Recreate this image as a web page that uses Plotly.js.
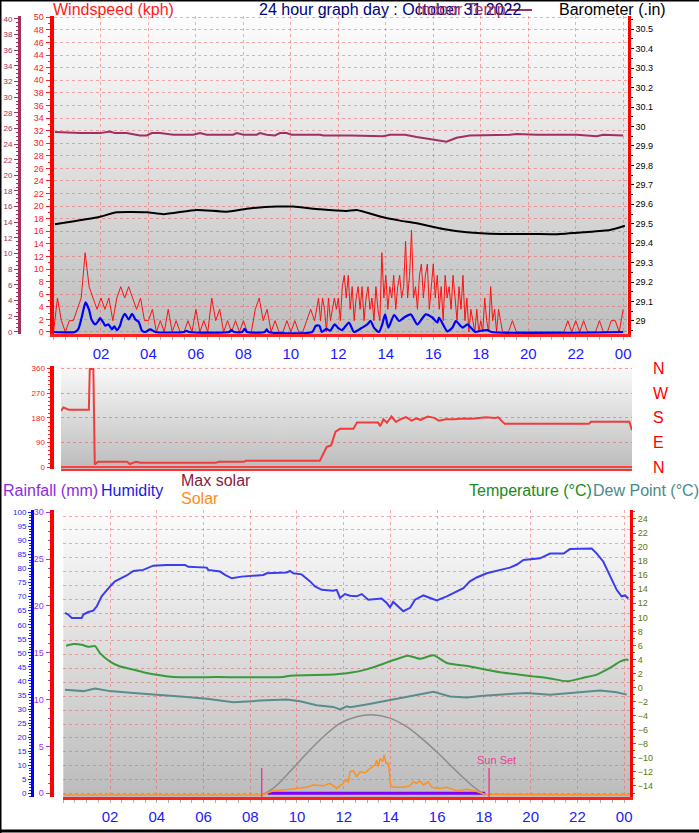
<!DOCTYPE html>
<html>
<head>
<meta charset="utf-8">
<script src="https://cdn.plot.ly/plotly-3.0.1.min.js"></script>
<style>
  html, body { margin: 0; padding: 0; background: #ffffff; }
  #graficoClima { width: 699px; height: 833px; }
</style>
</head>
<body>
<div id="graficoClima"></div>
<script>
// eje de horas
var tickHours = [2, 4, 6, 8, 10, 12, 14, 16, 18, 20, 22, 24];
var tickLabels = ["02", "04", "06", "08", "10", "12", "14", "16", "18", "20", "22", "00"];

// rafagas (kph): cada 10 min de 00 a 11, cada 5 min de 11 a 19, cada 10 min de 19 a 24
var gustQuiet1 = [0, 5.4, 1.8, 0, 1.8, 1.8,
  3.6, 5.4, 12.6, 7.2, 5.4, 3.6,
  5.4, 3.6, 5.4, 1.8, 5.4, 7.2,
  5.4, 7.2, 5.4, 3.6, 5.4, 1.8,
  1.8, 3.6, 0, 1.8, 0, 3.6,
  0, 1.8, 0, 0, 1.8, 0,
  3.6, 0, 1.8, 0, 5.4, 1.8,
  3.6, 0, 1.8, 0, 1.8, 0,
  1.8, 0, 0, 3.6, 5.4, 1.8,
  3.6, 0, 1.8, 0, 0, 1.8,
  0, 1.8, 0, 0, 1.8, 3.6];
var gustBusy = [1.8, 3.6, 5.4, 1.8, 5.4, 3.6, 0, 5.4, 1.8, 3.6, 5.4, 3.6,
  5.4, 1.8, 7.2, 9, 5.4, 9, 3.6, 7.2, 1.8, 5.4, 7.2, 3.6,
  7.2, 1.8, 5.4, 7.2, 3.6, 5.4, 1.8, 7.2, 3.6, 1.8, 12.6, 5.4,
  9, 3.6, 7.2, 5.4, 9, 3.6, 7.2, 9, 5.4, 7.2, 14.4, 5.4,
  9, 16.2, 5.4, 7.2, 3.6, 9, 10.8, 5.4, 9, 10.8, 3.6, 7.2,
  10.8, 5.4, 9, 3.6, 7.2, 1.8, 9, 5.4, 7.2, 3.6, 9, 5.4,
  1.8, 7.2, 3.6, 9, 1.8, 5.4, 0, 3.6, 1.8, 0, 3.6, 0,
  1.8, 0, 5.4, 1.8, 0, 7.2, 1.8, 3.6, 0, 3.6, 1.8, 0];
var gustQuiet2 = [0, 0, 1.8, 0, 0, 0,
  0, 0, 0, 0, 0, 0,
  0, 0, 0, 0, 1.8, 0,
  1.8, 0, 1.8, 0, 0, 0,
  1.8, 0, 0, 1.8, 1.8, 0,
  3.6];

// viento medio (kph)
var avgHours = [0, 0.9, 1.05, 1.2, 1.35, 1.5, 1.6, 1.75, 1.9, 1.96,
  2.1, 2.18, 2.32, 2.46, 2.56, 2.67, 2.8, 2.88, 3.0, 3.17,
  3.31, 3.45, 3.59, 3.73, 3.87, 4.08, 4.29, 5.5, 5.6, 5.7,
  7.4, 7.5, 7.6, 7.95, 8.05, 8.15, 8.9, 8.98, 9.06, 10.9,
  11.05, 11.2, 11.3, 11.5, 11.65, 11.85, 12.0, 12.15, 12.45, 12.66,
  13.01, 13.22, 13.36, 13.5, 13.71, 13.85, 13.97, 14.11, 14.35, 14.56,
  14.77, 15.05, 15.33, 15.68, 15.96, 16.17, 16.24, 16.59, 16.81, 16.95,
  17.23, 17.44, 17.58, 17.77, 18.0, 18.29, 18.45, 24.0];
var avgKph = [0, 0, 0.5, 2.5, 4.7, 3.5, 2.0, 1.2, 1.8, 2.2,
  1.5, 1.0, 1.2, 0.4, 0.9, 0.3, 1.0, 2.0, 2.9, 2.0,
  2.9, 2.0, 1.6, 0.2, 0, 0.4, 0, 0, 0.2, 0,
  0, 0.3, 0, 0, 0.5, 0, 0, 0.4, 0, 0,
  1.0, 1.0, 0, 0.5, 0.2, 1.2, 0.6, 0.3, 1.5, 0,
  0.7, 1.2, 1.75, 0.7, 0, 1.2, 2.8, 0.7, 2.7, 1.75,
  2.3, 2.8, 1.2, 2.8, 2.3, 1.5, 2.3, 0.1, 0.7, 1.75,
  0.7, 1.2, 0.7, 0, 0.2, 0.3, 0, 0];

// temperatura interior (eje 0-40)
var inHours = [0.06, 1.12, 1.96, 2.38, 2.59, 3.08, 3.64, 3.93, 4.14, 4.49,
  5.05, 5.89, 6.17, 6.45, 7.57, 7.72, 8.0, 8.56, 8.7, 8.98,
  9.33, 9.54, 9.82, 10.03, 11.23, 11.37, 12.49, 13.89, 14.17, 14.81,
  15.3, 15.72, 16.56, 16.98, 17.54, 19.23, 19.51, 20.35, 21.2, 22.04,
  22.88, 23.16, 24.0];
var inTemp = [25.55, 25.4, 25.4, 25.6, 25.4, 25.4, 25.1, 25.1, 25.4, 25.4,
  25.2, 25.2, 25.4, 25.2, 25.2, 25.4, 25.2, 25.2, 25.4, 25.2,
  25.1, 25.4, 25.4, 25.2, 25.2, 25.1, 25.1, 25.0, 25.2, 25.2,
  24.9, 24.7, 24.3, 24.8, 25.1, 25.2, 25.3, 25.2, 25.2, 25.2,
  25.0, 25.2, 25.1];

// barometro (in)
var baroHours = [0.06, 1.96, 2.66, 3.93, 4.63, 6.03, 7.3, 8.14, 9.4, 10.1,
  11.23, 12.35, 12.77, 13.89, 14.6, 15.3, 16.42, 17.41, 18.81, 20.21,
  21.19, 22.32, 23.44, 24.07];
var baroIn = [29.497, 29.536, 29.559, 29.559, 29.549, 29.571, 29.562, 29.577, 29.588, 29.588,
  29.574, 29.566, 29.571, 29.533, 29.516, 29.502, 29.473, 29.456, 29.447, 29.447,
  29.446, 29.456, 29.468, 29.49];

// direccion del viento (grados)
var dirHours = [0, 0.1, 0.33, 1.17, 1.21, 1.36, 1.42, 1.55, 2.78, 2.89,
  3.15, 3.34, 6.5, 6.64, 7.7, 7.77, 10.88, 10.98, 11.17, 11.35,
  11.54, 11.73, 12.29, 12.44, 13.33, 13.42, 13.55, 13.70, 13.89, 14.08,
  14.27, 14.5, 14.74, 14.93, 15.12, 15.41, 15.69, 15.88, 16.16, 16.53,
  16.91, 17.29, 17.86, 18.24, 18.38, 18.51, 18.65, 22.19, 22.28, 23.89,
  24.0];
var dirDeg = [205, 218, 210, 210, 358, 358, 10, 20, 20, 12,
  20, 17, 17, 20, 20, 24, 24, 40, 75, 80,
  130, 140, 140, 163, 163, 150, 175, 162, 185, 165,
  175, 183, 170, 178, 173, 185, 180, 170, 175, 175,
  178, 177, 182, 180, 182, 170, 159, 159, 166, 166,
  135];
var dirTicks = [0, 90, 180, 270, 360];
var dirLetters = ["N", "E", "S", "W", "N"];

// humedad (%)
var humHours = [0.07, 0.21, 0.36, 0.79, 0.86, 1.07, 1.28, 1.43, 1.64, 1.86,
  2.0, 2.21, 2.43, 2.71, 3.0, 3.42, 3.85, 4.42, 5.21, 5.35,
  6.14, 6.2, 6.71, 6.92, 7.21, 7.63, 8.56, 8.7, 9.56, 9.7,
  9.84, 10.2, 10.56, 10.77, 11.06, 11.55, 11.7, 11.84, 12.05, 12.27,
  12.55, 12.77, 13.05, 13.62, 13.84, 13.98, 14.12, 14.41, 14.55, 14.84,
  15.05, 15.41, 15.69, 15.98, 16.41, 16.84, 17.12, 17.4, 17.69, 18.12,
  18.55, 19.11, 19.41, 19.69, 20.4, 20.83, 21.41, 21.68, 22.61, 22.83,
  23.11, 23.39, 23.68, 23.89, 24.04, 24.18];
var humPct = [64.2, 63.6, 62.4, 62.4, 63.6, 64.5, 65.0, 66.5, 70.1, 72.4,
  73.6, 75.4, 76.2, 77.5, 79.1, 79.5, 81.0, 81.2, 81.2, 80.6,
  80.3, 79.5, 78.9, 77.7, 76.5, 77.1, 77.7, 78.3, 78.6, 79.1,
  78.3, 77.9, 75.4, 73.6, 72.4, 72.1, 72.4, 69.5, 70.9, 70.3,
  70.1, 70.9, 68.9, 69.3, 67.7, 66.2, 68.1, 65.7, 64.8, 66.0,
  68.9, 70.4, 69.5, 68.6, 70.1, 71.8, 73.0, 75.4, 76.8, 78.3,
  79.2, 80.3, 81.4, 83.0, 83.6, 85.3, 85.3, 86.9, 87.1, 85.3,
  82.4, 77.7, 72.4, 70.1, 70.4, 69.3];

// temperatura y punto de rocio (°C)
var tempHours = [0.12, 0.43, 0.79, 1.07, 1.36, 1.57, 2.0, 2.43, 2.71, 3.42,
  4.14, 4.71, 6.56, 9.41, 9.7, 11.55, 11.98, 12.27, 12.98, 13.7,
  13.98, 14.76, 15.26, 15.84, 16.41, 17.4, 18.69, 20.11, 20.83, 21.55,
  22.26, 22.83, 23.39, 23.82, 24.11, 24.18];
var tempC = [5.97, 6.2, 6.1, 5.8, 5.9, 4.9, 3.7, 3.0, 2.8, 2.2,
  1.75, 1.5, 1.5, 1.5, 1.7, 1.85, 2.0, 2.1, 2.6, 3.4,
  3.75, 4.55, 4.1, 4.6, 3.5, 3.0, 2.2, 1.6, 1.3, 0.9,
  1.4, 1.85, 2.8, 3.7, 4.0, 3.85];
var dewHours = [0.07, 0.86, 1.36, 2.0, 3.0, 4.14, 5.14, 6.14, 7.28, 8.42,
  9.56, 10.13, 10.84, 11.55, 11.84, 12.13, 12.27, 12.98, 13.7, 14.41,
  15.12, 15.84, 16.55, 17.27, 17.97, 18.69, 19.83, 20.83, 21.97, 22.97,
  23.68, 24.11];
var dewC = [-0.3, -0.5, -0.14, -0.5, -0.75, -1.0, -1.3, -1.6, -2.1, -1.85,
  -1.7, -1.95, -2.5, -2.75, -3.1, -2.65, -2.8, -2.4, -1.95, -1.5,
  -1.15, -0.6, -1.25, -1.4, -1.15, -1.0, -0.75, -1.0, -0.65, -0.4,
  -0.65, -1.0];

// radiacion solar (W/m2)
var maxSolarHours = [8.5, 8.99, 9.7, 10.42, 11.13, 11.84, 12.55, 13.2, 13.98, 14.69,
  15.41, 16.12, 16.84, 17.55, 18.05];
var maxSolarW = [0, 24, 82, 146, 204, 251, 274, 281, 269, 239,
  193, 140, 82, 29, 0];
var solarHours = [0, 8.5, 8.7, 8.99, 9.7, 10.42, 10.7, 11.13, 11.41, 11.7,
  11.98, 12.05, 12.2, 12.27, 12.41, 12.55, 12.7, 12.91, 13.13, 13.34,
  13.41, 13.48, 13.56, 13.67, 13.73, 13.81, 13.91, 14.01, 14.12, 14.55,
  14.83, 14.98, 15.12, 15.26, 15.41, 15.62, 15.77, 16.12, 16.41, 16.84,
  17.27, 17.7, 18.05, 24.25];
var solarW = [0, 0, 6, 15, 20, 27, 35, 32, 41, 23,
  41, 52, 46, 81, 85, 64, 81, 78, 93, 105,
  122, 99, 128, 117, 140, 111, 111, 35, 27, 27,
  32, 46, 41, 50, 35, 46, 27, 23, 27, 15,
  20, 12, 2, 0];

// lluvia (mm) y sol
var rainHours = [8.75, 18.05];
var rainMm = [0, 0];
var sunTimes = [8.49, 18.22];

// tiempos de las rafagas
var gustHours = [];
var i;
for (i = 0; i < gustQuiet1.length; i++) gustHours.push(i / 6);
for (i = 0; i < gustBusy.length; i++) gustHours.push(11 + i / 12);
for (i = 0; i < gustQuiet2.length; i++) gustHours.push(19 + i / 6);
var gustKph = gustQuiet1.concat(gustBusy, gustQuiet2);

// pixel -> papel
function px(x) { return x / 699; }
function py(y) { return 1 - y / 833; }

function degradado(arriba, abajo) {
  var c = document.createElement("canvas");
  c.width = 4; c.height = 256;
  var g = c.getContext("2d");
  var gr = g.createLinearGradient(0, 0, 0, 256);
  gr.addColorStop(0, arriba);
  gr.addColorStop(1, abajo);
  g.fillStyle = gr;
  g.fillRect(0, 0, 4, 256);
  return c.toDataURL();
}

var rojoGrid = "rgba(238,90,90,0.5)";
var fuente = "Liberation Sans, Arial, sans-serif";
var fuenteChica = "Liberation Sans Narrow, Liberation Sans, Arial, sans-serif";

var topX = [px(53.5), px(627.7)], topY = [py(334), py(16)];
var midX = [px(61), px(632)], midY = [py(469), py(366)];
var botX = [px(63.3), px(630)], botY = [py(797), py(510)];

var data = [
  {x: gustHours, y: gustKph, xaxis: "x", yaxis: "y", mode: "lines",
    line: {color: "#ff1010", width: 1}, hoverinfo: "skip"},
  {x: avgHours, y: avgKph, xaxis: "x", yaxis: "y", mode: "lines",
    line: {color: "#0000ff", width: 2.2, shape: "spline", smoothing: 0.6}, hoverinfo: "skip"},
  {x: inHours, y: inTemp, xaxis: "x", yaxis: "y2", mode: "lines",
    line: {color: "#a03060", width: 2}, hoverinfo: "skip"},
  {x: baroHours, y: baroIn, xaxis: "x", yaxis: "y3", mode: "lines",
    line: {color: "#000000", width: 2, shape: "spline", smoothing: 0.5}, hoverinfo: "skip"},
  {x: dirHours, y: dirDeg, xaxis: "x2", yaxis: "y4", mode: "lines",
    line: {color: "#f03c3c", width: 2}, hoverinfo: "skip"},
  {x: dirHours, y: dirDeg, xaxis: "x2", yaxis: "y5", mode: "lines",
    line: {color: "rgba(0,0,0,0)", width: 0}, hoverinfo: "skip"},
  {x: maxSolarHours, y: maxSolarW, xaxis: "x3", yaxis: "y10", mode: "lines",
    line: {color: "#8c8c8c", width: 1.5, shape: "spline"}, hoverinfo: "skip"},
  {x: solarHours, y: solarW, xaxis: "x3", yaxis: "y10", mode: "lines",
    line: {color: "#ff9020", width: 1.5}, hoverinfo: "skip"},
  {x: rainHours, y: rainMm, xaxis: "x3", yaxis: "y6", mode: "lines",
    line: {color: "#8000ff", width: 3}, hoverinfo: "skip"},
  {x: dewHours, y: dewC, xaxis: "x3", yaxis: "y8", mode: "lines",
    line: {color: "#5a8c8c", width: 2}, hoverinfo: "skip"},
  {x: tempHours, y: tempC, xaxis: "x3", yaxis: "y8", mode: "lines",
    line: {color: "#3a9a3a", width: 2, shape: "spline", smoothing: 0.5}, hoverinfo: "skip"},
  {x: humHours, y: humPct, xaxis: "x3", yaxis: "y7", mode: "lines",
    line: {color: "#3c3cf0", width: 2}, hoverinfo: "skip"},
  {x: humHours, y: humPct, xaxis: "x3", yaxis: "y9", mode: "lines",
    line: {color: "rgba(0,0,0,0)", width: 0}, hoverinfo: "skip"}
];

function ejeHoras(dom, rango, ancla) {
  return {
    domain: dom, range: rango, anchor: ancla,
    tickmode: "array", tickvals: tickHours, ticktext: tickLabels,
    tickfont: {family: fuente, size: 15, color: "#1a1aff"},
    ticks: "", ticklabelstandoff: 4,
    showgrid: true, gridcolor: rojoGrid, griddash: "dot", gridwidth: 1,
    showline: true, linecolor: "#ff2020", linewidth: 3, zeroline: false,
    minor: {ticks: "outside", dtick: 0.5, tick0: 0, ticklen: 3, tickcolor: "#b0b0b0", showgrid: false}
  };
}

var layout = {
  width: 699, height: 833,
  margin: {l: 0, r: 0, t: 0, b: 0},
  paper_bgcolor: "#ffffff",
  plot_bgcolor: "rgba(0,0,0,0)",
  showlegend: false,
  font: {family: fuente},
  xaxis: ejeHoras(topX, [0, 24.19], "y"),
  yaxis: {
    domain: topY, range: [-0.32, 50.21], tick0: 0, dtick: 2,
    tickfont: {family: fuenteChica, size: 9, color: "#ff2020"},
    ticks: "outside", ticklen: 4, tickcolor: "#ff2020",
    showgrid: true, gridcolor: rojoGrid, griddash: "dot",
    showline: true, linecolor: "#ff0000", linewidth: 4, zeroline: false,
    minor: {ticks: "outside", dtick: 1, ticklen: 2, tickcolor: "#ff2020", showgrid: false}
  },
  yaxis2: {
    overlaying: "y", anchor: "free", position: px(19), side: "left",
    range: [-0.294, 40.38], tick0: 0, dtick: 2,
    tickfont: {family: fuenteChica, size: 8, color: "#a03060"},
    ticks: "outside", ticklen: 4, tickcolor: "#a03060",
    showgrid: false, showline: true, linecolor: "#a03060", linewidth: 3, zeroline: false,
    minor: {ticks: "outside", dtick: 0.5, ticklen: 2, tickcolor: "#a03060"}
  },
  yaxis3: {
    overlaying: "y", anchor: "x", side: "right",
    range: [28.933, 30.568], tick0: 29, dtick: 0.1,
    tickfont: {family: fuenteChica, size: 9, color: "#000000"},
    ticks: "outside", ticklen: 3, tickcolor: "#000000",
    showgrid: false, showline: true, linecolor: "#ff0000", linewidth: 3, zeroline: false,
    minor: {ticks: "outside", dtick: 0.05, ticklen: 2, tickcolor: "#000000"}
  },
  xaxis2: {
    domain: midX, range: [0, 24], anchor: "y4",
    showticklabels: false, ticks: "", showgrid: false,
    showline: true, linecolor: "#ff3030", linewidth: 2, zeroline: false
  },
  yaxis4: {
    domain: midY, range: [-6.2, 369], tickmode: "array", tickvals: dirTicks,
    tickfont: {family: fuenteChica, size: 8, color: "#ff2020"},
    ticks: "outside", ticklen: 3, tickcolor: "#ff2020",
    showgrid: true, gridcolor: "rgba(238,90,90,0.6)", griddash: "dot",
    showline: true, linecolor: "#ff0000", linewidth: 4,
    zeroline: true, zerolinecolor: "#ff4040", zerolinewidth: 2,
    minor: {ticks: "outside", dtick: 15, ticklen: 2, tickcolor: "#ff2020", showgrid: false}
  },
  yaxis5: {
    overlaying: "y4", anchor: "x2", side: "right",
    range: [-6.2, 369], tickmode: "array", tickvals: dirTicks, ticktext: dirLetters,
    tickfont: {family: fuente, size: 16, color: "#ff0000"},
    ticks: "", ticklabelstandoff: 20, showgrid: false, showline: false, zeroline: false
  },
  xaxis3: ejeHoras(botX, [0, 24.25], "y6"),
  yaxis6: {
    domain: botY, range: [-0.4, 30.25], tick0: 0, dtick: 5,
    tickfont: {family: fuenteChica, size: 9, color: "#9a30ff"},
    ticks: "outside", ticklen: 4, tickcolor: "#9a30ff",
    showgrid: false, showline: true, linecolor: "#ff0000", linewidth: 4, zeroline: false,
    minor: {ticks: "outside", dtick: 1, ticklen: 2, tickcolor: "#9a30ff"}
  },
  yaxis7: {
    overlaying: "y6", anchor: "free", position: px(32), side: "left",
    range: [-1.3, 100.8], tick0: 0, dtick: 5,
    tickfont: {family: fuenteChica, size: 8, color: "#1a1aff"},
    ticks: "outside", ticklen: 3, tickcolor: "#1a1aff",
    showgrid: false, showline: true, linecolor: "#0000ff", linewidth: 3, zeroline: false,
    minor: {ticks: "outside", dtick: 1, ticklen: 2, tickcolor: "#1a1aff"}
  },
  yaxis8: {
    overlaying: "y6", anchor: "x3", side: "right",
    range: [-15.57, 25.28], tick0: 0, dtick: 2,
    tickfont: {family: fuenteChica, size: 9, color: "#5a7a00"},
    ticks: "outside", ticklen: 3, tickcolor: "#5a7a00",
    showgrid: false, showline: true, linecolor: "#ff0000", linewidth: 3, zeroline: false,
    minor: {ticks: "outside", dtick: 1, ticklen: 2, tickcolor: "#5a7a00"}
  },
  yaxis9: {
    overlaying: "y6", anchor: "x3", side: "left",
    range: [-0.267, 20.44], tick0: 0, dtick: 1,
    showticklabels: false, ticks: "",
    showgrid: true, gridcolor: rojoGrid, griddash: "dot",
    showline: false, zeroline: false
  },
  yaxis10: {
    overlaying: "y6", anchor: "x3", range: [-7, 997.5], visible: false
  },
  images: [
    {source: degradado("#fdfdfd", "#bebebe"), xref: "paper", yref: "paper",
      x: topX[0], y: topY[1], sizex: topX[1] - topX[0], sizey: topY[1] - topY[0],
      sizing: "stretch", xanchor: "left", yanchor: "top", layer: "below"},
    {source: degradado("#fafafa", "#bcbcbc"), xref: "paper", yref: "paper",
      x: midX[0], y: midY[1], sizex: midX[1] - midX[0], sizey: midY[1] - midY[0],
      sizing: "stretch", xanchor: "left", yanchor: "top", layer: "below"},
    {source: degradado("#fdfdfd", "#bcbcbc"), xref: "paper", yref: "paper",
      x: botX[0], y: botY[1], sizex: botX[1] - botX[0], sizey: botY[1] - botY[0],
      sizing: "stretch", xanchor: "left", yanchor: "top", layer: "below"}
  ],
  shapes: [
    {type: "line", xref: "paper", yref: "paper", x0: 0, x1: 0, y0: 0, y1: 1,
      line: {color: "#000000", width: 3}},
    {type: "line", xref: "paper", yref: "paper", x0: 0, x1: 1, y0: 1, y1: 1,
      line: {color: "#000000", width: 3}},
    {type: "line", xref: "paper", yref: "paper", x0: 0, x1: 1, y0: py(831), y1: py(831),
      line: {color: "#000000", width: 3}},
    {type: "line", xref: "paper", yref: "paper", x0: px(507), x1: px(532), y0: py(10), y1: py(10),
      line: {color: "#a03060", width: 2}},
    {type: "line", xref: "x3", yref: "y6", x0: sunTimes[0], x1: sunTimes[0], y0: -0.4, y1: 2.7,
      line: {color: "#e8409a", width: 1.5}},
    {type: "line", xref: "x3", yref: "y6", x0: sunTimes[1], x1: sunTimes[1], y0: -0.4, y1: 2.7,
      line: {color: "#e8409a", width: 1.5}}
  ],
  annotations: [
    {text: "Windspeed (kph)", xref: "paper", yref: "paper", x: px(51), y: py(9),
      xanchor: "left", yanchor: "middle", showarrow: false, font: {size: 16, color: "#ff1a1a"}},
    {text: "24 hour graph day : October 31 2022", xref: "paper", yref: "paper", x: px(257), y: py(9),
      xanchor: "left", yanchor: "middle", showarrow: false, font: {size: 16, color: "#000080"}},
    {text: "Indoor Temp", xref: "paper", yref: "paper", x: px(415), y: py(9),
      xanchor: "left", yanchor: "middle", showarrow: false, font: {size: 16, color: "#a03060"}},
    {text: "Barometer (.in)", xref: "paper", yref: "paper", x: px(557), y: py(9),
      xanchor: "left", yanchor: "middle", showarrow: false, font: {size: 16, color: "#000000"}},
    {text: "Rainfall (mm)", xref: "paper", yref: "paper", x: px(1), y: py(490),
      xanchor: "left", yanchor: "middle", showarrow: false, font: {size: 16, color: "#8a2be2"}},
    {text: "Humidity", xref: "paper", yref: "paper", x: px(99), y: py(490),
      xanchor: "left", yanchor: "middle", showarrow: false, font: {size: 16, color: "#1a1ae6"}},
    {text: "Max solar", xref: "paper", yref: "paper", x: px(179), y: py(480),
      xanchor: "left", yanchor: "middle", showarrow: false, font: {size: 16, color: "#8b1a3a"}},
    {text: "Solar", xref: "paper", yref: "paper", x: px(179), y: py(498),
      xanchor: "left", yanchor: "middle", showarrow: false, font: {size: 16, color: "#ff8c1a"}},
    {text: "Temperature (°C)", xref: "paper", yref: "paper", x: px(467), y: py(490),
      xanchor: "left", yanchor: "middle", showarrow: false, font: {size: 16, color: "#1a8a1a"}},
    {text: "Dew Point (°C)", xref: "paper", yref: "paper", x: px(591), y: py(490),
      xanchor: "left", yanchor: "middle", showarrow: false, font: {size: 16, color: "#4a8a8a"}},
    {text: "Sun Set", xref: "x3", yref: "y6", x: sunTimes[1], y: 2.7, xshift: 7,
      xanchor: "center", yanchor: "bottom", showarrow: false, font: {size: 11, color: "#e8409a"}}
  ]
};

Plotly.newPlot("graficoClima", data, layout, {displayModeBar: false, staticPlot: true});
</script>
</body>
</html>
